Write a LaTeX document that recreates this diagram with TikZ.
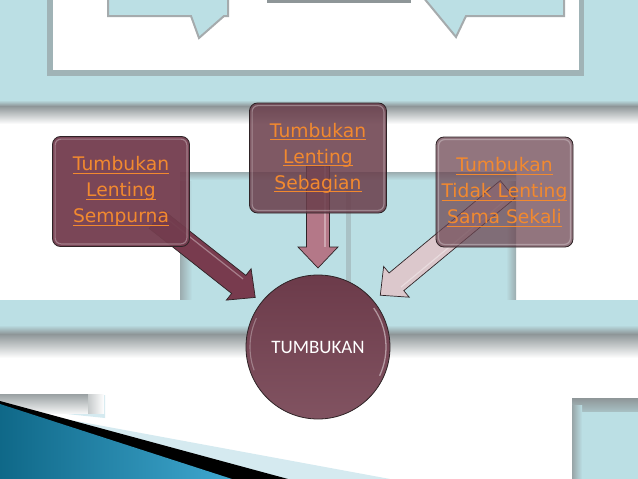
\documentclass[tikz,border=0pt]{standalone}
\usepackage{fontspec}
\newfontfamily\boxfont{DejaVu Sans}
\newfontfamily\circfont{Carlito}
\usetikzlibrary{calc}
\definecolor{lblue}{HTML}{BBDFE4}
\definecolor{shgray}{HTML}{8E9698}
\definecolor{paleblue}{HTML}{D5EAF0}
\definecolor{swdark}{HTML}{0F6888}
\definecolor{swlight}{HTML}{3FA7CF}
\definecolor{boxedge}{HTML}{2E2326}
\definecolor{linkor}{HTML}{F2892F}
\definecolor{lboxc}{HTML}{733D4E}
\definecolor{mboxc}{HTML}{6A3E4B}
\definecolor{rboxc}{HTML}{6C4652}
\definecolor{larrc}{HTML}{783B4E}
\definecolor{marrc}{HTML}{B47888}
\definecolor{rarrc}{HTML}{DCC8CC}
\definecolor{circtop}{HTML}{6C3B4A}
\definecolor{circbot}{HTML}{815361}
\pgfdeclarelayer{bg}
\pgfdeclarelayer{arr}
\pgfsetlayers{bg,arr,main}
\newcommand\myul[1]{\setbox0=\hbox{#1}\rlap{\rule[-2.8pt]{\wd0}{0.9pt}}\box0}
\newcommand\blockarrow[3]{%
  \coordinate (ba-h) at ($(#2)!21pt!(#1)$);
  \path[#3] ($(#1)!11.5pt!90:(#2)$) -- ($(ba-h)!11.5pt!90:(#2)$) -- ($(ba-h)!20pt!90:(#2)$) -- (#2)
    -- ($(ba-h)!20pt!-90:(#2)$) -- ($(ba-h)!11.5pt!-90:(#2)$) -- ($(#1)!11.5pt!-90:(#2)$) -- cycle;
  \draw[white, opacity=0.35, line width=1.2pt] ($(#1)!7pt!90:(#2)$) -- ($(ba-h)!7pt!90:(#2)$);
}
\tikzset{
  boxst/.style={draw=boxedge, line width=0.8pt, rounded corners=8pt, align=center,
    text=linkor, font=\boxfont\fontsize{18.7}{26}\selectfont, inner sep=0pt,
    minimum width=137pt, minimum height=110pt},
  gloss/.style={draw=white, draw opacity=0.3, line width=1.2pt, rounded corners=6pt},
  circst/.style={circle, draw=boxedge, line width=0.8pt, top color=circtop, bottom color=circbot,
    minimum size=144pt, inner sep=0pt, text=white, font=\circfont\fontsize{19}{22}\selectfont},
  arrst/.style={fill=#1, draw=boxedge, line width=0.7pt}
}
\begin{document}
\begin{tikzpicture}[x=1pt,y=-1pt]
\useasboundingbox (0,0) rectangle (638,479);
\clip (0,0) rectangle (638,479);
% ---------- nodes ----------
\node[boxst, fill=lboxc, fill opacity=0.95, text opacity=1] (lb) at (121,191.5)
  {\myul{Tumbukan}\\\myul{Lenting}\\\myul{Sempurna}};
\node[boxst, fill=mboxc, fill opacity=0.86, text opacity=1] (mb) at (318,158)
  {\myul{Tumbukan}\\\myul{Lenting}\\\myul{Sebagian}};
\node[boxst, fill=rboxc, fill opacity=0.74, text opacity=1] (rb) at (504.5,192)
  {\myul{Tumbukan}\\\myul{Tidak Lenting}\\\myul{Sama Sekali}};
\foreach \b in {lb,mb,rb}
  \draw[gloss] ($(\b.south west)+(3,-3)$) rectangle ($(\b.north east)+(-3,3)$);
\node[circst] (circ) at (318,347) {TUMBUKAN};
\draw[white, opacity=0.45, line width=1.3pt] ([shift={(circ.center)}] -35:68) arc (-35:25:68);
\draw[white, opacity=0.3, line width=1.1pt] ([shift={(circ.center)}] 160:68) arc (160:205:68);
% ---------- arrows ----------
\begin{pgfonlayer}{arr}
\coordinate (ls) at ($(lb.center)!45pt!(circ.center)$);
\coordinate (lt) at ($(circ.center)!80pt!(lb.center)$);
\coordinate (ms) at ($(mb.center)!8pt!(circ.center)$);
\coordinate (mt) at ($(circ.center)!79pt!(mb.center)$);
\coordinate (rs) at ($(rb.center)!-4pt!(circ.center)$);
\coordinate (rt) at ($(circ.center)!81pt!(rb.center)$);
\blockarrow{ls}{lt}{arrst=larrc}
\blockarrow{ms}{mt}{arrst=marrc}
\blockarrow{rs}{rt}{arrst=rarrc}
\end{pgfonlayer}
% ---------- background ----------
\begin{pgfonlayer}{bg}
\fill[white] (0,0) rectangle (638,479);
\fill[lblue] (0,0) rectangle (638,102);
\fill[shgray!60!lblue] (47,-2) rectangle (584,76);
\fill[white] (53,-2) rectangle (579,70);
\filldraw[fill=lblue, draw=shgray!80, line width=2pt] (108,-3) -- (108,16) -- (191,16) -- (199,38) -- (224,16) -- (228,16) -- (228,-3) -- cycle;
\filldraw[fill=lblue, draw=shgray!80, line width=2pt] (423,-3) -- (456,37) -- (466,16) -- (564,16) -- (564,-3) -- cycle;
\fill[shgray] (267,-2) rectangle (411,3);
\shade[top color=lblue, bottom color=shgray] (0,100) rectangle (638,106);
\shade[top color=shgray, bottom color=white] (0,106) rectangle (638,124);
% middle panel
\fill[lblue] (180,172) rectangle (516,302);
\shade[left color=shgray!70!lblue, right color=lblue] (180,172) rectangle (192,302);
\fill[shgray!40!lblue] (346,176) rectangle (351,302);
\shade[left color=lblue, right color=shgray!70!lblue] (506,172) rectangle (516,302);
\shade[top color=shgray!70!lblue, bottom color=lblue] (180,172) rectangle (516,180);
% band
\fill[lblue] (0,300) rectangle (638,327);
\shade[top color=lblue, bottom color=shgray] (0,325) rectangle (638,334);
\shade[top color=shgray, bottom color=white] (0,334) rectangle (638,358);
% bottom right panel
\shade[top color=shgray, bottom color=shgray!40!lblue] (572,398) rectangle (638,412);
\fill[lblue] (578,412) rectangle (638,479);
\shade[left color=shgray!80!lblue, right color=lblue] (572,405) rectangle (582,479);
% bottom left
\fill[paleblue] (0,407) -- (105,418) -- (105,395) -- (0,395) -- cycle;
\shade[top color=shgray!90, bottom color=shgray!10] (0,394) rectangle (92,413);
\shade[left color=shgray!50, right color=white] (88,394) rectangle (104,413);
\fill[paleblue] (0,407) -- (390,479) -- (0,479) -- cycle;
\fill[black] (0,401) -- (288,479) -- (0,479) -- cycle;
\shade[left color=swdark, right color=swlight] (0,404) -- (232,479) -- (0,479) -- cycle;
\end{pgfonlayer}
\end{tikzpicture}
\end{document}
